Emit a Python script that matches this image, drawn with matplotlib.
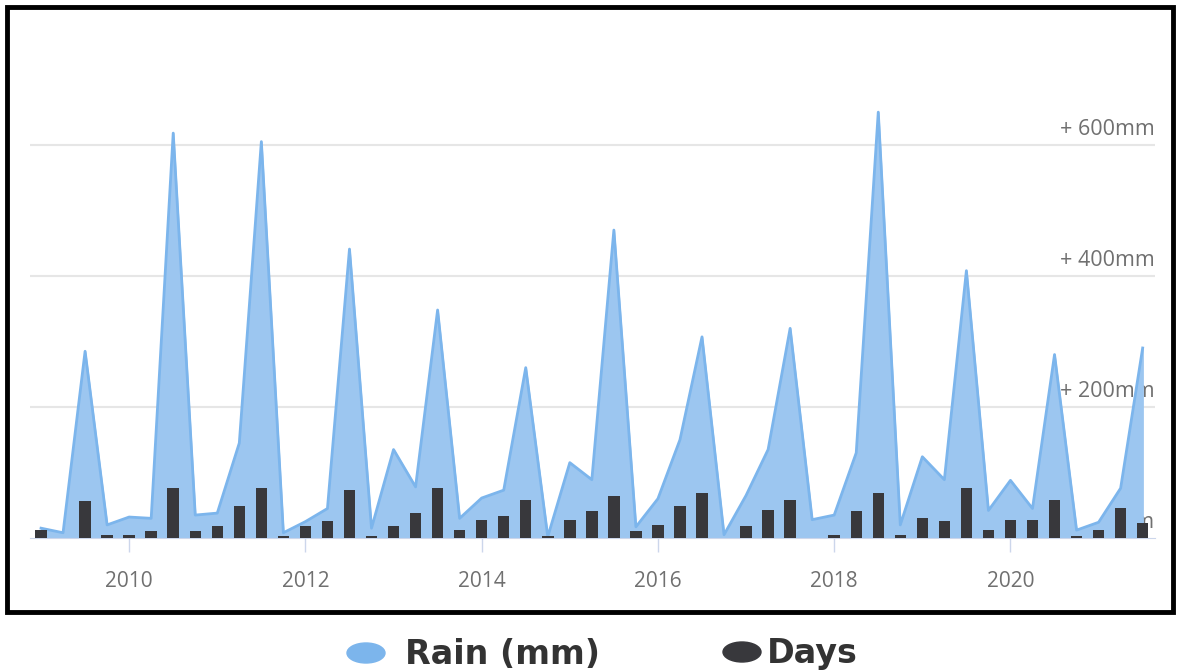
import matplotlib.pyplot as plt
from matplotlib.patches import Ellipse, Rectangle
import matplotlib.transforms as mtransforms
import pandas as pd

# quarterly rainfall, 2009 Q1 .. 2021 Q3
quarters = pd.period_range("2009Q1", "2021Q3", freq="Q")
rain_mm = [15, 8, 285, 20,
           32, 30, 618, 35,
           38, 145, 605, 8,
           25, 45, 441, 15,
           135, 78, 348, 30,
           61, 73, 260, 2,
           115, 89, 470, 17,
           60, 150, 307, 5,
           65, 135, 320, 28,
           35, 130, 650, 20,
           124, 89, 408, 42,
           88, 45, 280, 12,
           24, 76, 290]
rain_days = [5, 0, 22, 2,
             2, 4, 30, 4,
             7, 19, 30, 1,
             7, 10, 29, 1,
             7, 15, 30, 5,
             11, 13, 23, 1,
             11, 16, 25, 4,
             8, 19, 27, 0,
             7, 17, 23, 0,
             2, 16, 27, 2,
             12, 10, 30, 5,
             11, 11, 23, 1,
             5, 18, 9]
tick_years = [2010, 2012, 2014, 2016, 2018, 2020]
rain_ticks = [0, 200, 400, 600]

W, H = 1177, 671
fig = plt.figure(figsize=(W / 100, H / 100), dpi=100)
ax = fig.add_axes([30 / W, 1 - 538 / H, (1155 - 30) / W, (538 - 25) / H])

x = quarters.year + (quarters.quarter - 1) / 4

# grid + right-hand labels sit behind the series
lbl_trans = mtransforms.blended_transform_factory(ax.transAxes, ax.transData)
for v in rain_ticks:
    if v > 0:
        ax.axhline(v, color="#e6e6e6", lw=1.5, zorder=0)
        txt = f"+ {v}mm"
    else:
        txt = "0mm"
    ax.text(1.0, v + 8, txt, transform=lbl_trans, ha="right", va="bottom",
            fontsize=15.5, color="#707070", family="Open Sans", zorder=1)

ax.fill_between(x, rain_mm, color="#9cc6f0", zorder=2)
ax.plot(x, rain_mm, color="#7cb5ec", lw=2, zorder=3)

ax.set_xlim(2008.875, 2021.64)
ax.set_ylim(0, 783)
ax.set_yticks([])
ax.set_xticks(tick_years)
ax.set_xticklabels([str(t) for t in tick_years], family="Open Sans")
ax.tick_params(axis="x", length=10, width=1, color="#ccd6eb",
               labelcolor="#707070", labelsize=15, pad=14)
for side in ["top", "left", "right"]:
    ax.spines[side].set_visible(False)
ax.spines["bottom"].set_color("#ccd6eb")

# rainy days on a hidden second axis
ax2 = ax.twinx()
ax2.bar(x, rain_days, width=0.13, color="#38383c", zorder=3)
ax2.set_ylim(0, 308)
ax2.set_axis_off()

# outer frame
fig.add_artist(Rectangle((7 / W, 1 - 612 / H), (1173 - 7) / W, (612 - 7) / H,
                         transform=fig.transFigure, fill=False, lw=3.5,
                         ec="black"))

# legend below the frame
fig.add_artist(Ellipse((366 / W, 1 - 653 / H), 38 / W, 20 / H,
                       transform=fig.transFigure, color="#7cb5ec"))
fig.text(405 / W, 1 - 654 / H, "Rain (mm)", va="center", ha="left",
         fontsize=24, fontweight="bold", color="#333333")
fig.add_artist(Ellipse((742 / W, 1 - 652 / H), 38 / W, 20 / H,
                       transform=fig.transFigure, color="#38383c"))
fig.text(767 / W, 1 - 654 / H, "Days", va="center", ha="left",
         fontsize=24, fontweight="bold", color="#333333")

fig.savefig("out.png", dpi=100)
